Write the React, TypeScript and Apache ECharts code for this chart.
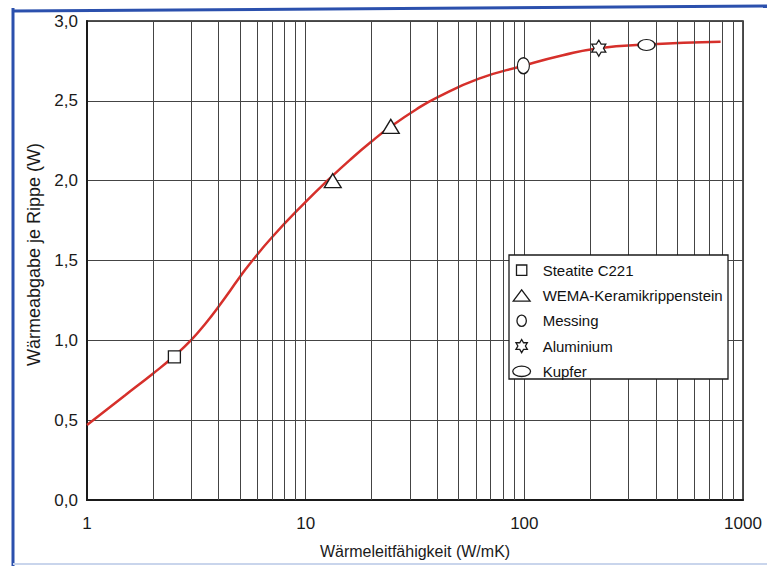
import React, { useEffect, useRef } from "react";
import * as echarts from "echarts";

// ---- data ----
const curveX = [1, 1.5, 2, 2.5, 3, 3.5, 4, 5, 5.5, 7, 10, 12.7, 16, 20, 24.4, 32, 40, 62, 99, 150, 219, 362, 790];
const curveY = [0.47, 0.658, 0.791, 0.9, 1.003, 1.109, 1.212, 1.396, 1.472, 1.644, 1.867, 2.006, 2.132, 2.245, 2.337, 2.446, 2.522, 2.639, 2.72, 2.785, 2.83, 2.853, 2.87];

const materials = ["Steatite C221", "WEMA-Keramikrippenstein", "Messing", "Aluminium", "Kupfer"];
const steatitePts = [[2.51, 0.897]];
const wemaPts = [[13.3, 2.0], [24.5, 2.34]];
const messingPts = [[99, 2.72]];
const aluminiumPts = [[219, 2.83]];
const kupferPts = [[362, 2.85]];

const xTickLabels = [1, 10, 100, 1000];
const yTickLabels = [0, 0.5, 1, 1.5, 2, 2.5, 3];
const minorGridX = [2, 3, 4, 5, 6, 7, 8, 9, 20, 30, 40, 50, 60, 70, 80, 90, 200, 300, 400, 500, 600, 700, 800, 900];

// ---- symbol shapes ----
function hexagram(cx: number, cy: number, R: number) {
  const r = R / Math.sqrt(3);
  let d = "";
  for (let k = 0; k < 12; k++) {
    const ang = ((-90 + k * 30) * Math.PI) / 180;
    const rad = k % 2 === 0 ? R : r;
    d += (k === 0 ? "M" : "L") + (cx + rad * Math.cos(ang)).toFixed(2) + "," + (cy + rad * Math.sin(ang)).toFixed(2) + " ";
  }
  return d + "Z";
}
function ellipse(cx: number, cy: number, rx: number, ry: number) {
  const k = 0.5523;
  const ox = rx * k, oy = ry * k;
  return (
    `M${cx - rx},${cy} C${cx - rx},${cy - oy} ${cx - ox},${cy - ry} ${cx},${cy - ry} ` +
    `C${cx + ox},${cy - ry} ${cx + rx},${cy - oy} ${cx + rx},${cy} ` +
    `C${cx + rx},${cy + oy} ${cx + ox},${cy + ry} ${cx},${cy + ry} ` +
    `C${cx - ox},${cy + ry} ${cx - rx},${cy + oy} ${cx - rx},${cy} Z`
  );
}
const PH = "M0,0 M32,16 "; // phantom box for legend icons (32x16)
const legendIcons = [
  "path://" + PH + "M10.5,2.5 L21.5,2.5 L21.5,13.5 L10.5,13.5 Z",
  "path://" + PH + "M7,14 L16,2 L25,14 Z",
  "path://" + PH + ellipse(16, 8, 5, 6),
  "path://" + PH + hexagram(16, 8, 7),
  "path://" + PH + ellipse(16, 8, 9.5, 5.5),
];

const fontMain = "'Liberation Sans', Arial, sans-serif";
const markerStyle = { color: "#ffffff", borderColor: "#1a1a1a", borderWidth: 1.3, opacity: 1 };

export default function App() {
  const ref = useRef<HTMLDivElement>(null);
  useEffect(() => {
    if (!ref.current) return;
    const chart = echarts.init(ref.current, undefined, { renderer: "svg" });
    const lineData = curveX.map((x, i) => [x, curveY[i]]);
    chart.setOption({
      animation: false,
      backgroundColor: "#ffffff",
      grid: { left: 87, right: 24, top: 21, bottom: 66, show: true, borderColor: "#1a1a1a", borderWidth: 1.5, backgroundColor: "transparent" },
      xAxis: {
        type: "log",
        logBase: 10,
        min: xTickLabels[0],
        max: xTickLabels[xTickLabels.length - 1],
        name: "Wärmeleitfähigkeit (W/mK)",
        nameLocation: "middle",
        nameGap: 43,
        nameTextStyle: { fontFamily: fontMain, fontSize: 16, color: "#1a1a1a" },
        axisLine: { show: true, lineStyle: { color: "#1a1a1a", width: 2 } },
        axisTick: { show: false },
        axisLabel: { fontFamily: fontMain, fontSize: 17, color: "#1a1a1a", margin: 15, formatter: (v: number) => String(Math.round(v)) },
        splitLine: { show: true, lineStyle: { color: "#444444", width: 1 } },
      },
      yAxis: {
        type: "value",
        min: yTickLabels[0],
        max: yTickLabels[yTickLabels.length - 1],
        interval: 0.5,
        name: "Wärmeabgabe je Rippe (W)",
        nameLocation: "middle",
        nameGap: 31,
        nameTextStyle: { fontFamily: fontMain, fontSize: 18, color: "#1a1a1a", padding: [0, 0, 0, 12] },
        axisLine: { show: true, lineStyle: { color: "#1a1a1a", width: 2 } },
        axisTick: { show: false },
        axisLabel: { fontFamily: fontMain, fontSize: 17, color: "#1a1a1a", margin: 9, formatter: (v: number) => v.toFixed(1).replace(".", ",") },
        splitLine: { show: true, lineStyle: { color: "#444444", width: 1 } },
      },
      legend: {
        orient: "vertical",
        left: 506,
        top: 262,
        padding: 0,
        itemWidth: 32,
        itemHeight: 15,
        itemGap: 9,
        selectedMode: false,
        z: 20,
        itemStyle: { color: "#ffffff", borderColor: "#1a1a1a", borderWidth: 1.3 },
        textStyle: { fontFamily: fontMain, fontSize: 15, lineHeight: 15, color: "#111111" },
        data: materials.map((n, i) => ({ name: n, icon: legendIcons[i] })),
      },
      graphic: [
        { type: "rect", z: 15, shape: { x: 509, y: 255, width: 219, height: 124 }, style: { fill: "#ffffff", stroke: "#1a1a1a", lineWidth: 1.3 } },
        { type: "line", z: 15, shape: { x1: 13, y1: 8, x2: 13, y2: 566 }, style: { stroke: "#2b50ad", lineWidth: 3 } },
        { type: "line", z: 15, shape: { x1: 12, y1: 11, x2: 767, y2: 6 }, style: { stroke: "#2b50ad", lineWidth: 3 } },
        { type: "line", z: 15, shape: { x1: 13, y1: 564, x2: 767, y2: 564 }, style: { stroke: "#c9d5ec", lineWidth: 2 } },
      ],
      series: [
        {
          name: "grid-minor",
          type: "line",
          data: [],
          silent: true,
          markLine: {
            silent: true,
            symbol: "none",
            label: { show: false },
            lineStyle: { color: "#444444", width: 1, type: "solid" },
            data: minorGridX.map((x) => ({ xAxis: x })),
          },
        },
        {
          name: "curve",
          type: "line",
          data: lineData,
          smooth: 0.5,
          showSymbol: false,
          symbol: "none",
          silent: true,
          z: 3,
          lineStyle: { color: "#d6302b", width: 2.5 },
        },
        { name: materials[0], type: "scatter", z: 5, data: steatitePts, symbol: "rect", symbolSize: 12, itemStyle: markerStyle },
        { name: materials[1], type: "scatter", z: 5, data: wemaPts, symbol: "triangle", symbolSize: [17, 14], itemStyle: markerStyle },
        { name: materials[2], type: "scatter", z: 5, data: messingPts, symbol: "path://" + ellipse(1, 1, 1, 1), symbolSize: [12, 16], itemStyle: markerStyle },
        { name: materials[3], type: "scatter", z: 5, data: aluminiumPts, symbol: "path://" + hexagram(1, 1, 1), symbolSize: [14, 16], itemStyle: markerStyle },
        { name: materials[4], type: "scatter", z: 5, data: kupferPts, symbol: "path://" + ellipse(1, 1, 1, 1), symbolSize: [17, 11], itemStyle: markerStyle },
      ],
    });
    return () => chart.dispose();
  }, []);
  return <div ref={ref} style={{ position: "fixed", left: 0, top: 0, width: 767, height: 566 }} />;
}
